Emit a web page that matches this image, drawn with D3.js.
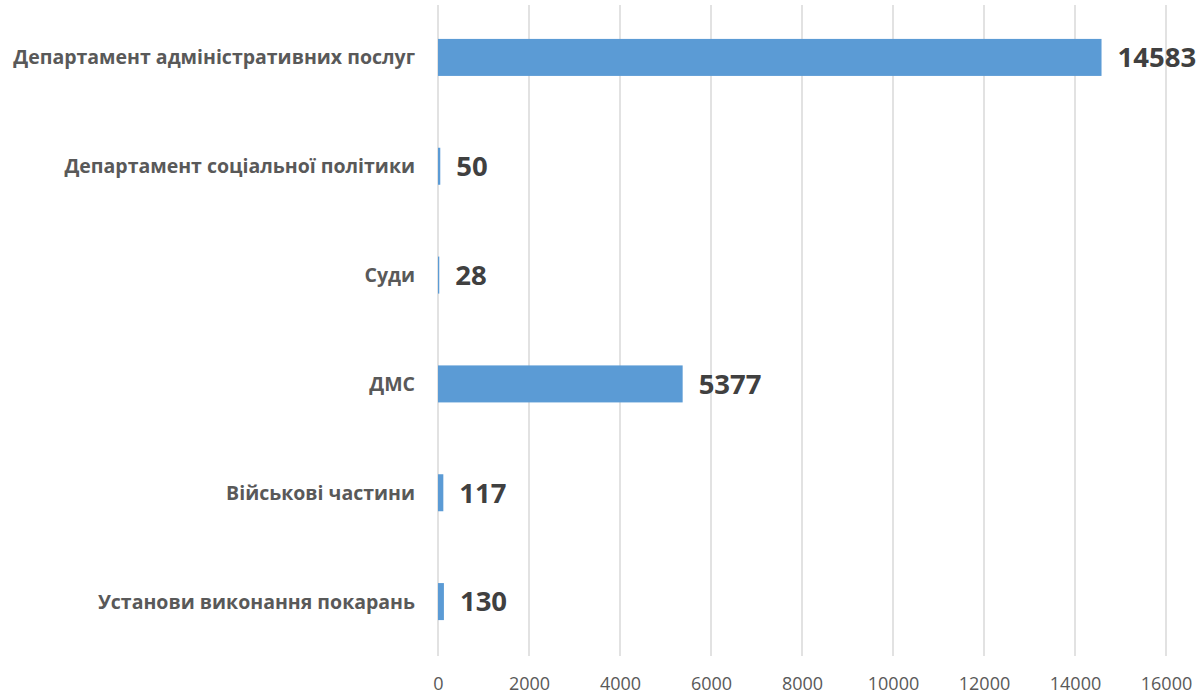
<!DOCTYPE html>
<html><head><meta charset="utf-8">
<script src="https://cdn.jsdelivr.net/npm/d3@7"></script>
<style>body{margin:0;background:#fff}svg{display:block}</style>
</head><body>
<script>
const categories = ["Департамент адміністративних послуг","Департамент соціальної політики","Суди","ДМС","Військові частини","Установи виконання покарань"];
const values = [14583, 50, 28, 5377, 117, 130];
const tickValues = [0,2000,4000,6000,8000,10000,12000,14000,16000];

const W=1201,H=696;
const svg=d3.select("body").append("svg").attr("width",W).attr("height",H);
const x=d3.scaleLinear().domain([0,16000]).range([438,1166]);
const y=d3.scaleBand().domain(categories).range([3,656]).paddingInner(0.66).paddingOuter(0.33);

svg.append("g").selectAll("line").data(tickValues).join("line")
  .attr("x1",d=>x(d)).attr("x2",d=>x(d)).attr("y1",5).attr("y2",656)
  .attr("stroke","#d9d9d9").attr("stroke-width",1.5);

svg.append("g").selectAll("rect").data(values).join("rect")
  .attr("x",x(0)).attr("y",(d,i)=>y(categories[i]))
  .attr("width",d=>x(d)-x(0)).attr("height",y.bandwidth())
  .attr("fill","#5b9bd5");

svg.append("g").selectAll("text").data(values).join("text")
  .attr("x",d=>x(d)+16).attr("y",(d,i)=>y(categories[i])+y.bandwidth()/2)
  .attr("dy","0.36em").attr("font-family","Open Sans, sans-serif").attr("font-weight","bold")
  .attr("font-size",27.5).attr("fill","#404040").text(d=>d);

svg.append("g").selectAll("text").data(categories).join("text")
  .attr("x",415).attr("y",d=>y(d)+y.bandwidth()/2).attr("dy","0.36em")
  .attr("text-anchor","end").attr("font-family","Open Sans, sans-serif").attr("font-weight","bold")
  .attr("font-size",19.5).attr("fill","#595959").text(d=>d);

const ax=svg.append("g").attr("transform","translate(0,684)")
  .call(d3.axisBottom(x).tickValues(tickValues).tickSize(0).tickPadding(0).tickFormat(d3.format("d")));
ax.select(".domain").remove();
ax.selectAll("text").attr("font-family","Open Sans, sans-serif").attr("font-size",18).attr("fill","#595959").attr("dy","0.36em");
</script>
</body></html>
